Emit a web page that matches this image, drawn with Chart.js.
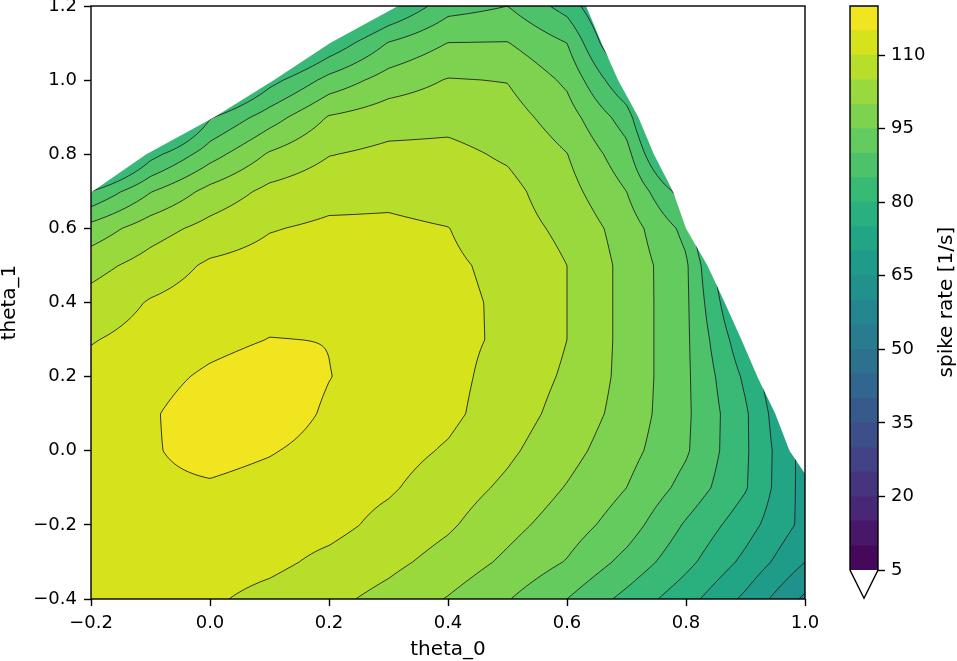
<!DOCTYPE html>
<html>
<head>
<meta charset="utf-8">
<script src="https://cdn.jsdelivr.net/npm/chart.js@4.4.1/dist/chart.umd.min.js"></script>
<style>
  html, body { margin: 0; padding: 0; background: #fff; overflow: hidden; }
  #wrap { position: relative; width: 957px; height: 661px; }
  #main { position: absolute; left: 0; top: 0; }
  #cbar { position: absolute; left: 830px; top: 0; }
</style>
</head>
<body>
<div id="wrap">
  <canvas id="main" width="957" height="661"></canvas>
  <canvas id="cbar" width="127" height="661"></canvas>
</div>
<script>
// sample points of the rate grid
const theta0 = [-0.2, -0.1, 0.0, 0.1, 0.2, 0.3, 0.4, 0.5, 0.6, 0.7, 0.8, 0.9, 1.0];
const theta1 = [-0.4, -0.3, -0.2, -0.1, 0.0, 0.1, 0.2, 0.3, 0.4, 0.5, 0.6, 0.7, 0.8, 0.9, 1.0, 1.1, 1.2];

// spike rate [1/s], one row per theta_1 (bottom row first)
const rate = [
  [112.6, 111.9, 110.7, 108.5, 106.3, 103.4,  99.7,  95.3,  90.0,  83.5,  76.9,  68.9,  59.0], // -0.4
  [113.2, 112.9, 112.2, 111.2, 108.8, 106.3, 103.1,  99.0,  94.7,  88.5,  81.4,  73.7,  65.0], // -0.3
  [113.5, 113.5, 113.2, 112.4, 111.5, 108.6, 105.7, 101.6,  97.5,  92.4,  84.4,  77.1,  68.5], // -0.2
  [113.8, 114.2, 114.5, 113.5, 112.2, 110.6, 107.5, 104.0,  99.7,  95.0,  88.3,  80.4,  68.0], // -0.1
  [113.8, 114.6, 116.5, 115.3, 113.5, 111.8, 109.5, 105.9, 101.7,  96.8,  90.6,  80.7,  68.0], //  0.0
  [113.5, 114.5, 117.5, 117.3, 114.4, 112.4, 111.1, 107.4, 103.2,  98.1,  90.9,  80.7,  66.0], //  0.1
  [111.6, 113.4, 115.8, 117.5, 115.1, 113.3, 111.4, 108.1, 104.3,  98.5,  90.9,  79.0,  64.0], //  0.2
  [109.7, 111.8, 113.6, 115.1, 114.9, 112.8, 111.3, 109.2, 105.0,  98.5,  90.9,  76.0,  62.0], //  0.3
  [106.9, 110.4, 112.4, 113.6, 113.5, 112.5, 111.2, 109.2, 105.0,  98.5,  90.9,  72.0,  58.0], //  0.4
  [103.2, 107.1, 110.8, 112.0, 112.3, 111.8, 110.8, 108.8, 105.0,  98.5,  90.8,  68.0,  54.0], //  0.5
  [ 97.0, 102.8, 106.7, 109.7, 110.9, 110.9, 110.1, 107.2, 103.8,  97.7,  88.5,  60.0,  50.0], //  0.6
  [ 85.0,  94.7, 101.6, 106.3, 108.3, 108.8, 107.8, 106.5, 101.8,  95.0,  82.0,  55.0,  45.0], //  0.7
  [ 65.0,  83.0,  92.9, 100.6, 104.8, 106.2, 106.3, 104.3, 100.1,  91.8,  70.0,  50.0,  40.0], //  0.8
  [ 50.0,  65.0,  84.5,  92.6, 100.4, 102.8, 103.5, 102.2,  97.3,  87.5,  62.0,  45.0,  35.0], //  0.9
  [ 40.0,  55.0,  70.0,  83.0,  91.7,  97.2, 100.3,  99.8,  94.0,  80.0,  55.0,  40.0,  30.0], //  1.0
  [ 30.0,  45.0,  58.0,  70.0,  81.0,  90.3,  95.1,  95.2,  90.0,  72.0,  50.0,  35.0,  25.0], //  1.1
  [ 25.0,  35.0,  48.0,  60.0,  70.0,  79.0,  88.0,  90.0,  83.0,  70.0,  45.0,  30.0,  20.0]  //  1.2
];

// border of the silent (white) region, per theta_1
const edgeY     = [-0.4, -0.3, -0.2, -0.1, 0.0, 0.1, 0.2, 0.3, 0.4, 0.5, 0.6, 0.7, 0.8, 0.9, 1.0, 1.1, 1.2];
const edgeLeft  = [-0.3, -0.3, -0.3, -0.3, -0.3, -0.3, -0.3, -0.3, -0.3, -0.3, -0.3, -0.197, -0.107, 0.007, 0.107, 0.202, 0.316];
const edgeRight = [1.1, 1.1, 1.056, 1.016, 0.974, 0.95, 0.92, 0.893, 0.865, 0.836, 0.80, 0.778, 0.746, 0.72, 0.686, 0.658, 0.632];

const levels = [5, 10, 15, 20, 25, 30, 35, 40, 45, 50, 55, 60, 65, 70, 75, 80, 85, 90, 95, 100, 105, 110, 115, 120];
const cbTicks = [5, 20, 35, 50, 65, 80, 95, 110];
const xTicks = [-0.2, 0.0, 0.2, 0.4, 0.6, 0.8, 1.0];
const yTicks = [-0.4, -0.2, 0.0, 0.2, 0.4, 0.6, 0.8, 1.0, 1.2];

const FONT = { family: 'DejaVu Sans', size: 18 };
const TITLE_FONT = { family: 'DejaVu Sans', size: 20, lineHeight: 1.0 };

const viridis = ['#440154','#471265','#482475','#46337f','#414487','#3b528b','#355f8d','#2e6c8e','#2a788e','#25848e',
  '#21918c','#1e9c89','#22a884','#2fb47c','#44bf70','#5ec962','#7ad151','#9bd93c','#bddf26','#dfe318','#fde725'];
function hex(h) { return [1, 3, 5].map(k => parseInt(h.substr(k, 2), 16)); }
function cmap(t) {
  const f = Math.min(Math.max(t, 0), 1) * (viridis.length - 1);
  const i = Math.min(Math.floor(f), viridis.length - 2), u = f - i;
  const a = hex(viridis[i]), b = hex(viridis[i + 1]);
  return [0, 1, 2].map(c => Math.round(a[c] + (b[c] - a[c]) * u));
}
const bands = levels.length - 1;
const bandRGB = [];
for (let k = 0; k < bands; k++) bandRGB.push(cmap((k + 0.5) / bands));
const bandCss = bandRGB.map(c => `rgb(${c[0]},${c[1]},${c[2]})`);

function rateAt(x, y) {
  const dx = theta0[1] - theta0[0], dy = theta1[1] - theta1[0];
  let fx = (x - theta0[0]) / dx, fy = (y - theta1[0]) / dy;
  fx = Math.min(Math.max(fx, 0), theta0.length - 1.000001);
  fy = Math.min(Math.max(fy, 0), theta1.length - 1.000001);
  const i = Math.floor(fx), j = Math.floor(fy), u = fx - i, v = fy - j;
  return rate[j][i] * (1 - u) * (1 - v) + rate[j][i + 1] * u * (1 - v)
       + rate[j + 1][i] * (1 - u) * v + rate[j + 1][i + 1] * u * v;
}

function bandOf(v) {
  if (v < levels[0]) return -1;
  for (let k = bands - 1; k >= 0; k--) if (v >= levels[k]) return k;
  return -1;
}

const minus = v => (v < 0 ? '\u2212' : '') + Math.abs(v).toFixed(1);

const fieldPlugin = {
  id: 'field',
  beforeDatasetsDraw(chart) {
    const { ctx, chartArea: a, scales: { x, y } } = chart;
    const w = Math.round(a.right - a.left), h = Math.round(a.bottom - a.top);
    const off = document.createElement('canvas');
    off.width = w; off.height = h;
    const octx = off.getContext('2d');
    const img = octx.createImageData(w, h);
    const xv = [];
    for (let i = 0; i < w; i++) xv.push(x.getValueForPixel(a.left + i + 0.5));
    for (let j = 0; j < h; j++) {
      const yv = y.getValueForPixel(a.top + j + 0.5);
      for (let i = 0; i < w; i++) {
        const k = bandOf(rateAt(xv[i], yv));
        const p = (j * w + i) * 4;
        const c = k < 0 ? [255, 255, 255] : bandRGB[k];
        img.data[p] = c[0]; img.data[p + 1] = c[1]; img.data[p + 2] = c[2]; img.data[p + 3] = 255;
      }
    }
    octx.putImageData(img, 0, 0);

    ctx.save();
    ctx.beginPath();
    ctx.rect(a.left, a.top, a.right - a.left, a.bottom - a.top);
    ctx.clip();
    ctx.beginPath();
    for (let k = edgeY.length - 1; k >= 0; k--)
      ctx.lineTo(x.getPixelForValue(edgeLeft[k]), y.getPixelForValue(edgeY[k]));
    for (let k = 0; k < edgeY.length; k++)
      ctx.lineTo(x.getPixelForValue(edgeRight[k]), y.getPixelForValue(edgeY[k]));
    ctx.closePath();
    ctx.clip();
    ctx.drawImage(off, a.left, a.top);

    // contour lines
    const s = 2;
    const px = [], py = [];
    for (let i = 0; a.left + i * s < a.right + s; i++) px.push(Math.min(a.left + i * s, a.right));
    for (let j = 0; a.top + j * s < a.bottom + s; j++) py.push(Math.min(a.top + j * s, a.bottom));
    const pxv = px.map(p => x.getValueForPixel(p));
    const f = py.map(p => { const yy = y.getValueForPixel(p); return pxv.map(xx => rateAt(xx, yy)); });
    ctx.strokeStyle = '#222';
    ctx.lineWidth = 0.9;
    for (let l = 1; l < levels.length - 1; l++) {
      const L = levels[l];
      ctx.beginPath();
      for (let j = 0; j < py.length - 1; j++) {
        for (let i = 0; i < px.length - 1; i++) {
          const tl = f[j][i], tr = f[j][i + 1], br = f[j + 1][i + 1], bl = f[j + 1][i];
          const pts = [];
          if ((tl >= L) !== (tr >= L)) pts.push([px[i] + (px[i + 1] - px[i]) * (L - tl) / (tr - tl), py[j]]);
          if ((tr >= L) !== (br >= L)) pts.push([px[i + 1], py[j] + (py[j + 1] - py[j]) * (L - tr) / (br - tr)]);
          if ((bl >= L) !== (br >= L)) pts.push([px[i] + (px[i + 1] - px[i]) * (L - bl) / (br - bl), py[j + 1]]);
          if ((tl >= L) !== (bl >= L)) pts.push([px[i], py[j] + (py[j + 1] - py[j]) * (L - tl) / (bl - tl)]);
          if (pts.length >= 2) { ctx.moveTo(pts[0][0], pts[0][1]); ctx.lineTo(pts[1][0], pts[1][1]); }
          if (pts.length === 4) { ctx.moveTo(pts[2][0], pts[2][1]); ctx.lineTo(pts[3][0], pts[3][1]); }
        }
      }
      ctx.stroke();
    }
    ctx.restore();
  },
  afterDraw(chart) {
    const { ctx, chartArea: a } = chart;
    ctx.save();
    ctx.strokeStyle = '#000';
    ctx.lineWidth = 1.4;
    ctx.strokeRect(a.left, a.top, a.right - a.left, a.bottom - a.top);
    ctx.restore();
  }
};

new Chart(document.getElementById('main'), {
  type: 'scatter',
  data: { datasets: [{ data: [], pointRadius: 0 }] },
  options: {
    responsive: false,
    animation: false,
    devicePixelRatio: 1,
    layout: { padding: { left: 0, right: 152, top: 6, bottom: 0 } },
    plugins: { legend: { display: false }, tooltip: { enabled: false } },
    scales: {
      x: {
        type: 'linear', min: -0.2, max: 1.0,
        afterBuildTicks: s => { s.ticks = xTicks.map(v => ({ value: v })); },
        afterFit: s => { s.height = 62; s.paddingLeft = 0; s.paddingRight = 0; },
        grid: { display: true, drawOnChartArea: false, drawTicks: true, tickLength: 7, tickWidth: 1.4, color: '#000' },
        border: { display: false },
        ticks: { color: '#000', font: FONT, padding: 7, maxRotation: 0, callback: v => minus(v) },
        title: { display: true, text: 'theta_0', color: '#000', font: TITLE_FONT, padding: { top: 0, bottom: 1 } }
      },
      y: {
        type: 'linear', min: -0.4, max: 1.2,
        afterBuildTicks: s => { s.ticks = yTicks.map(v => ({ value: v })); },
        afterFit: s => { s.width = 91; s.paddingTop = 0; s.paddingBottom = 0; },
        grid: { display: true, drawOnChartArea: false, drawTicks: true, tickLength: 7, tickWidth: 1.4, color: '#000' },
        border: { display: false },
        ticks: { color: '#000', font: FONT, padding: 7, callback: v => minus(v) },
        title: { display: true, text: 'theta_1', color: '#000', font: TITLE_FONT, padding: { top: 0, bottom: 0 } }
      }
    }
  },
  plugins: [fieldPlugin]
});

const cbarPlugin = {
  id: 'cbarFrame',
  afterDraw(chart) {
    const { ctx, chartArea: a } = chart;
    const ext = 0.05 * (a.bottom - a.top);
    const mid = (a.left + a.right) / 2;
    ctx.save();
    ctx.beginPath();
    ctx.moveTo(a.left, a.bottom);
    ctx.lineTo(a.right, a.bottom);
    ctx.lineTo(mid, a.bottom + ext);
    ctx.closePath();
    ctx.fillStyle = '#fff';
    ctx.fill();
    ctx.beginPath();
    ctx.moveTo(a.left, a.top);
    ctx.lineTo(a.right, a.top);
    ctx.lineTo(a.right, a.bottom);
    ctx.lineTo(mid, a.bottom + ext);
    ctx.lineTo(a.left, a.bottom);
    ctx.closePath();
    ctx.strokeStyle = '#000';
    ctx.lineWidth = 1.4;
    ctx.stroke();
    ctx.translate(a.right + 69, (a.top + a.bottom + ext) / 2);
    ctx.rotate(-Math.PI / 2);
    ctx.fillStyle = '#000';
    ctx.font = '20px "DejaVu Sans"';
    ctx.textAlign = 'center';
    ctx.textBaseline = 'middle';
    ctx.fillText('spike rate [1/s]', 0, 0);
    ctx.restore();
  }
};

new Chart(document.getElementById('cbar'), {
  type: 'bar',
  data: {
    labels: [''],
    datasets: levels.slice(0, -1).map((lo, k) => ({
      data: [[lo, levels[k + 1]]],
      backgroundColor: bandCss[k],
      borderWidth: 0,
      barPercentage: 1,
      categoryPercentage: 1,
      grouped: false
    }))
  },
  options: {
    responsive: false,
    animation: false,
    devicePixelRatio: 1,
    layout: { padding: { left: 20, right: 0, top: 6, bottom: 91 } },
    plugins: { legend: { display: false }, tooltip: { enabled: false } },
    scales: {
      x: { display: false },
      y: {
        position: 'right', min: levels[0], max: levels[levels.length - 1],
        afterBuildTicks: s => { s.ticks = cbTicks.map(v => ({ value: v })); },
        afterFit: s => { s.width = 79; s.paddingTop = 0; s.paddingBottom = 0; },
        grid: { display: true, drawOnChartArea: false, drawTicks: true, tickLength: 7, tickWidth: 1.4, color: '#000' },
        border: { display: false },
        ticks: { color: '#000', font: FONT, padding: 6 }
      }
    }
  },
  plugins: [cbarPlugin]
});
</script>
</body>
</html>
